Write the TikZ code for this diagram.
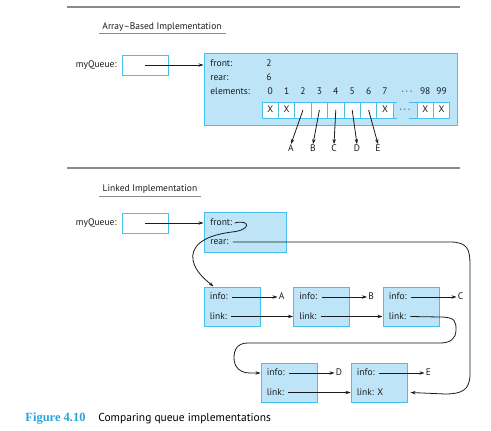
\documentclass[tikz,border=0pt]{standalone}
\usepackage{fontspec}
\setmainfont{PT Sans}
\newfontfamily\capfont{Liberation Serif}
\usetikzlibrary{arrows.meta,positioning,calc}
\definecolor{boxfill}{HTML}{BDE5F7}
\definecolor{boxline}{HTML}{45BFEC}
\definecolor{capblue}{HTML}{2BA3DA}
\definecolor{rulegray}{HTML}{8A8A8A}
\definecolor{ink}{HTML}{1A1A1A}

\begin{document}
\begin{tikzpicture}[x=1pt, y=-1pt, >={Stealth[length=5pt,width=3.4pt]}, line width=0.8pt,
  every node/.style={font=\fontsize{9.5}{11}\selectfont, text=ink},
  txt/.style={inner sep=0pt, text height=7pt, text depth=2pt},
  qbox/.style={draw=boxline, fill=boxfill, line width=1pt, inner sep=0pt},
  ptrbox/.style={draw=boxline, fill=white, line width=1pt, inner sep=0pt,
    minimum width=46pt, minimum height=20pt},
  cell/.style={draw=boxline, fill=white, line width=0.8pt, inner sep=0pt,
    minimum width=16.4pt, minimum height=16pt, text height=7pt, text depth=2pt},
  link/.style={->, draw=ink, line width=0.8pt},
  rule/.style={draw=rulegray, line width=1.3pt}]
  \useasboundingbox (0,0) rectangle (491,431);

  % array-based
  \draw[rule] (67,7) -- (460,7);
  \node[txt] (arrtitle) at (162,27) {Array–Based Implementation};
  \draw[rulegray, line width=0.6pt] (99,33) -- (226,33);
  \node[txt, anchor=east] (aqlbl) at (117,65) {myQueue:};
  \node[ptrbox] (aq) at (145,65) {};
  \node[qbox, minimum width=253pt, minimum height=72pt] (arr) at (330.5,89) {};
  \draw[link] (aq.center) -- (aq.center -| arr.west);
  \node[txt, anchor=west] (frontlbl) at (210,64) {front:};
  \node[txt] (frontval) at (269,64) {2};
  \node[txt, anchor=west] (rearlbl) at (210,78) {rear:};
  \node[txt] (rearval) at (269,78) {6};
  \node[txt, anchor=west] (elemlbl) at (210,92) {elements:};
  \foreach \i in {0,...,7} {
    \node[cell] (c\i) at (270.2+16.4*\i,110) {};
    \node[txt] (ix\i) at (270.2+16.4*\i,92) {\i};
  }
  \foreach \i in {0,1,7} \node[txt] at (c\i) {X};
  \node[cell] (c98) at (425.2,110) {X};
  \node[cell] (c99) at (441.6,110) {X};
  \node[txt] (ix98) at (425.2,92) {98};
  \node[txt] (ix99) at (441.6,92) {99};
  \node[txt] (ixdots) at (407,92) {·\,·\,·};
  \node[txt] (cdots) at (405,110) {·\,·\,·};
  \draw[boxline] (393.2,102) -- (397,102) (409,102) -- (417,102)
    (393.2,118) -- (397,118) (409,118) -- (417,118);
  \foreach \n/\x/\v in {la/291/A, lb/313/B, lc/334/C, ld/357/D, le/378/E}
    \node[txt] (\n) at (\x,149) {\v};
  \draw[link] (c2.center) -- (la.north);
  \draw[link] (c3.center) -- (lb.north);
  \draw[link] (c4.center) -- (lc.north);
  \draw[link] (c5.center) -- (ld.north);
  \draw[link] (c6.center) -- (le.north);

  % linked
  \draw[rule] (67,168) -- (460,168);
  \node[txt] (lnktitle) at (150,189) {Linked Implementation};
  \draw[rulegray, line width=0.6pt] (99,196) -- (201,196);
  \node[txt, anchor=east] (lqlbl) at (117,223) {myQueue:};
  \node[ptrbox] (lq) at (145,223) {};
  \node[qbox, minimum width=82pt, minimum height=40pt] (hdr) at (245,232) {};
  \draw[link] (lq.center) -- (lq.center -| hdr.west);
  \node[txt, anchor=west] (hfront) at (210,223) {front:};
  \node[txt, anchor=west] (hrear) at (210,242) {rear:};
  \foreach \n/\x/\y/\v/\k in {n1/232/306.5/A/link:, n2/321.5/306.5/B/link:,
      n3/411/306.5/C/link:, n4/289/382.5/D/link:, n5/379/382.5/E/{link: X}} {
    \node[qbox, minimum width=56pt, minimum height=39pt] (\n) at (\x,\y) {};
    \node[txt, anchor=west] (\n i) at ([xshift=6pt,yshift=9.5pt]\n.west) {info:};
    \node[txt, anchor=west] (\n l) at ([xshift=6pt,yshift=-10pt]\n.west) {\k};
    \node[txt, anchor=west] (\n v) at ([xshift=18pt]\n.east |- \n i) {\v};
    \draw[link, shorten >=1pt] ([xshift=4pt]\n i.east) -- (\n v.west);
  }
  \draw[link] ([xshift=4pt]n1l.east) -- (n1l -| n2.west);
  \draw[link] ([xshift=4pt]n2l.east) -- (n2l -| n3.west);
  \draw[link] ([xshift=4pt]n4l.east) -- (n4l -| n5.west);
  \draw[link] ([xshift=2pt]hfront.east) .. controls (250,219) and (252,230) .. (232,232)
    .. controls (200,236) and (191,248) .. (193,260)
    .. controls (195,272) and (207,281) .. ([xshift=10pt]n1.north west);
  \draw[link] ([xshift=4pt]hrear.east) -- (450,242) .. controls (468,242) and (470,250) .. (470,265)
    -- (470,374) .. controls (470,390) and (462,394) .. (445,394)
    -- ($(n5l -| n5.east)+(3,0)$);
  \draw[link] ([xshift=4pt]n3l.east) -- (440,317) .. controls (456,317) and (456,322) .. (456,330)
    .. controls (456,339) and (450,343) .. (440,343) -- (248,343)
    .. controls (237,343) and (234,350) .. (234,358)
    .. controls (234,367) and (240,373) .. (250,373) -- (n4i -| n4.west);

  % caption
  \node[anchor=west, inner sep=0pt, text=capblue,
    font=\capfont\bfseries\fontsize{12.5}{14}\selectfont] (figno) at (25,419) {Figure 4.10};
  \node[anchor=west, inner sep=0pt, text=black,
    font=\fontsize{11.5}{13}\selectfont] (figcap) at (98,419) {Comparing queue implementations};
\end{tikzpicture}
\end{document}
